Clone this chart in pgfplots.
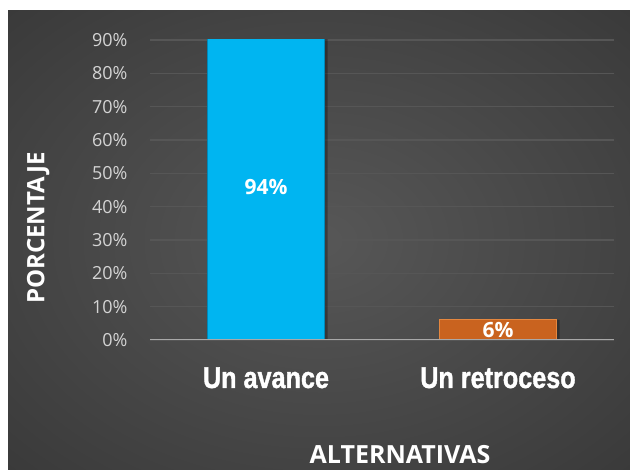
\documentclass[border=0pt]{standalone}
\usepackage{pgfplots}
\pgfplotsset{compat=1.18}
\usepackage{fontspec}
\setmainfont{Open Sans}
\newfontfamily\catfont[FakeStretch=0.84, BoldFeatures={FakeBold=1.2}]{Liberation Sans}

\definecolor{BgIn}{HTML}{575757}
\definecolor{BgOut}{HTML}{2A2A2A}
\definecolor{BarBlue}{HTML}{00B5F1}
\definecolor{BarBlueEdge}{HTML}{0088B8}
\definecolor{BarOrange}{HTML}{C9631F}
\definecolor{BarOrangeEdge}{HTML}{E5873F}
\definecolor{GridGray}{HTML}{565656}
\definecolor{TickGray}{HTML}{D4D4D4}
\definecolor{BaseGray}{HTML}{A8A8A8}
\pgfdeclareradialshading{chartbg}{\pgfpoint{0bp}{0bp}}{%
  color(0bp)=(BgIn); color(55bp)=(BgOut); color(80bp)=(BgOut)}

\begin{document}
\begin{tikzpicture}
% white frame and dark chart area
\fill[white] (0pt,0pt) rectangle (630pt,470pt);
\shade[shading=chartbg] (8pt,0pt) rectangle (630pt,459pt);

\begin{axis}[
  at={(150pt,130pt)}, anchor=south west,
  scale only axis, width=464pt, height=300pt,
  xmin=-0.5, xmax=1.5, ymin=0, ymax=0.9,
  axis line style={draw=none},
  ybar, bar width=117pt,
  xtick={0,1}, xticklabels={Un avance, Un retroceso},
  xticklabel style={anchor=base, yshift=-48pt, font=\catfont\bfseries\fontsize{30}{32}\selectfont, text=white},
  ytick={0,0.1,0.2,0.3,0.4,0.5,0.6,0.7,0.8,0.9},
  yticklabels={0\%,10\%,20\%,30\%,40\%,50\%,60\%,70\%,80\%,90\%},
  yticklabel style={xshift=-19pt, font=\fontsize{18}{20}\selectfont, text=TickGray},
  major tick length=0pt,
  ymajorgrids, major grid style={GridGray, line width=1.3pt},
  xlabel={ALTERNATIVAS},
  xlabel style={at={(axis description cs:0.539,-0.4133)}, anchor=base,
    font=\bfseries\fontsize{25}{27}\selectfont, text=white},
  ylabel={PORCENTAJE},
  ylabel style={at={(axis description cs:-0.241,0.373)}, anchor=center,
    font=\bfseries\fontsize{24}{26}\selectfont, text=white},
  clip=true,
]
% soft shadow to the right of each bar
\addplot[fill=black, fill opacity=0.3, draw=none, bar shift=3pt] coordinates {(0,0.94) (1,0.06)};
\addplot[fill=BarBlue, draw=BarBlueEdge, line width=0.8pt, bar shift=0pt] coordinates {(0,0.94)};
\addplot[fill=BarOrange, draw=BarOrangeEdge, line width=1pt, bar shift=0pt] coordinates {(1,0.06)};
\draw[BaseGray, line width=1.6pt] (axis cs:-0.5,0) -- (axis cs:1.5,0);
\node[text=white, font=\bfseries\fontsize{21}{23}\selectfont] at (axis cs:0,0.459) {94\%};
\node[text=white, font=\bfseries\fontsize{21}{23}\selectfont] at (axis cs:1,0.03) {6\%};
\end{axis}
\end{tikzpicture}
\end{document}
